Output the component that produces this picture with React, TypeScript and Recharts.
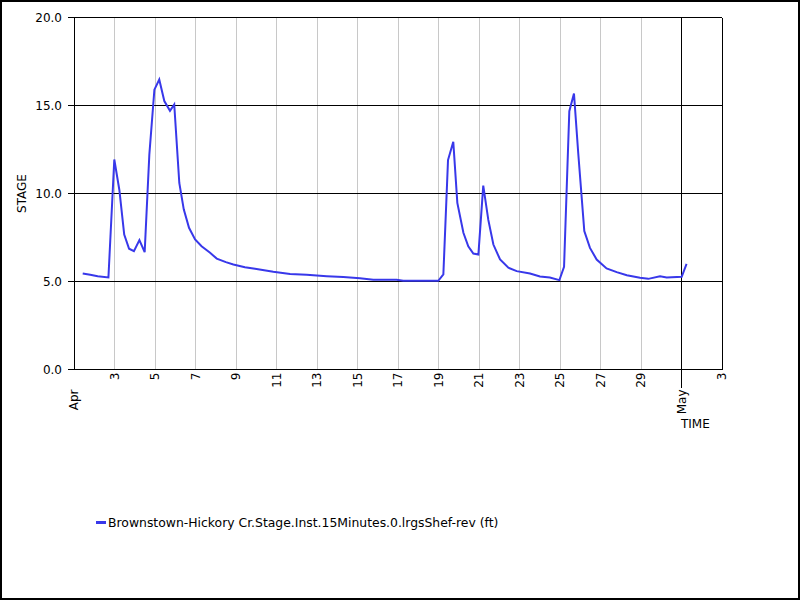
import { LineChart, Line, XAxis, YAxis, CartesianGrid, ReferenceLine } from "recharts";

// days since Apr 1 00:00 and stage (ft)
const days = [
  0.43, 0.8, 1.17, 1.7, 1.99, 2.24, 2.48, 2.72, 2.96, 3.23, 3.49, 3.72, 3.97, 4.21, 4.46, 4.74,
  4.95, 5.2, 5.42, 5.68, 5.98, 6.3, 6.72, 7.05, 7.5, 7.87, 8.44, 8.94, 9.84, 10.67, 11.49, 12.48,
  13.3, 14.12, 14.78, 15.93, 16.26, 17.99, 18.24, 18.47, 18.73, 18.93, 19.23, 19.47, 19.72, 19.97,
  20.21, 20.46, 20.71, 21.04, 21.45, 21.86, 22.52, 23.01, 23.5, 23.97, 24.2, 24.46, 24.69, 24.9,
  25.2, 25.48, 25.81, 26.3, 26.8, 27.3, 27.95, 28.36, 28.94, 29.27, 30.01, 30.25,
];
const stage = [
  5.45, 5.38, 5.3, 5.23, 11.93, 10.2, 7.67, 6.86, 6.72, 7.35, 6.67, 12.2, 15.9, 16.48, 15.25, 14.7,
  15.06, 10.6, 9.1, 8.05, 7.39, 7.0, 6.63, 6.3, 6.1, 5.97, 5.81, 5.72, 5.55, 5.43, 5.38, 5.3,
  5.25, 5.19, 5.1, 5.1, 5.04, 5.04, 5.4, 11.9, 12.94, 9.47, 7.77, 7.0, 6.59, 6.53,
  10.45, 8.5, 7.1, 6.25, 5.78, 5.59, 5.45, 5.28, 5.23, 5.08, 5.83, 14.68, 15.68, 12.3,
  7.86, 6.91, 6.25, 5.74, 5.53, 5.36, 5.21, 5.15, 5.3, 5.23, 5.27, 6.0,
];
const xTicks = [0, 2, 4, 6, 8, 10, 12, 14, 16, 18, 20, 22, 24, 26, 28, 30, 32];
const xTickLabels = ["Apr", "3", "5", "7", "9", "11", "13", "15", "17", "19", "21", "23", "25", "27", "29", "May", "3"];
const yTicks = [0, 5, 10, 15, 20];
const seriesName = "Brownstown-Hickory Cr.Stage.Inst.15Minutes.0.lrgsShef-rev (ft)";

const data = days.map((d, i) => ({ day: d, stage: stage[i] }));

const FONT = "DejaVu Sans, Verdana, sans-serif";
const LINE = "#3838ea";

const TimeTick = (props: any) => {
  const { x, y, payload } = props;
  const idx = xTicks.indexOf(payload.value);
  const label = xTickLabels[idx];
  const isMonth = label === "Apr" || label === "May";
  const off = isMonth ? 20 : 3;
  return (
    <g transform={`translate(${x},${y})`}>
      {label === "May" && <line x1={0} y1={0} x2={0} y2={18} stroke="#000" shapeRendering="crispEdges" />}
      <text
        transform="rotate(-90)"
        x={-off}
        y={0}
        dy="0.35em"
        textAnchor="end"
        fontSize={12}
        fontFamily={FONT}
        fill="#000"
      >
        {label}
      </text>
    </g>
  );
};

export default function App() {
  return (
    <div style={{ position: "absolute", left: 0, top: 0, width: 800, height: 600, background: "#fff", fontFamily: FONT }}>
      <LineChart width={800} height={600} data={data} margin={{ top: 17.5, right: 78, left: 0, bottom: 170.5 }}>
        <CartesianGrid horizontal={false} stroke="#c8c8c8" shapeRendering="crispEdges" />
        <CartesianGrid vertical={false} stroke="#000" shapeRendering="crispEdges" />
        <XAxis
          dataKey="day"
          type="number"
          domain={[0, 32]}
          ticks={xTicks}
          interval={0}
          height={60}
          tickLine={false}
          tickSize={0}
          tickMargin={0}
          axisLine={{ stroke: "#000", shapeRendering: "crispEdges" }}
          tick={<TimeTick />}
          label={{
            content: () => (
              <text x={681} y={428} fontSize={12} fontFamily={FONT} fill="#000">
                TIME
              </text>
            ),
          }}
        />
        <YAxis
          type="number"
          domain={[0, 20]}
          ticks={yTicks}
          width={74}
          tickSize={6}
          tickMargin={6}
          tickFormatter={(v: number) => v.toFixed(1)}
          tick={{ fill: "#000", fontSize: 12, fontFamily: FONT }}
          tickLine={{ stroke: "#000", shapeRendering: "crispEdges" }}
          axisLine={{ stroke: "#000", shapeRendering: "crispEdges" }}
          label={{ value: "STAGE", angle: -90, position: "center", dx: -15, fill: "#000", fontSize: 12, fontFamily: FONT }}
        />
        <ReferenceLine x={30} stroke="#000" shapeRendering="crispEdges" />
        <ReferenceLine x={32} stroke="#000" shapeRendering="crispEdges" />
        <ReferenceLine y={20} stroke="#000" shapeRendering="crispEdges" />
        <Line
          type="linear"
          dataKey="stage"
          name={seriesName}
          stroke={LINE}
          strokeWidth={2}
          dot={false}
          isAnimationActive={false}
        />
      </LineChart>
      <div
        style={{
          position: "absolute",
          left: 96,
          top: 515,
          display: "flex",
          alignItems: "center",
          fontSize: 12.4,
          fontFamily: FONT,
          color: "#000",
          whiteSpace: "nowrap",
        }}
      >
        <span style={{ display: "inline-block", width: 10, height: 3, background: LINE, marginRight: 2 }} />
        <span>{seriesName}</span>
      </div>
      <div
        style={{
          position: "absolute",
          left: 0,
          top: 0,
          width: 800,
          height: 600,
          boxSizing: "border-box",
          border: "2px solid #000",
          pointerEvents: "none",
        }}
      />
    </div>
  );
}
